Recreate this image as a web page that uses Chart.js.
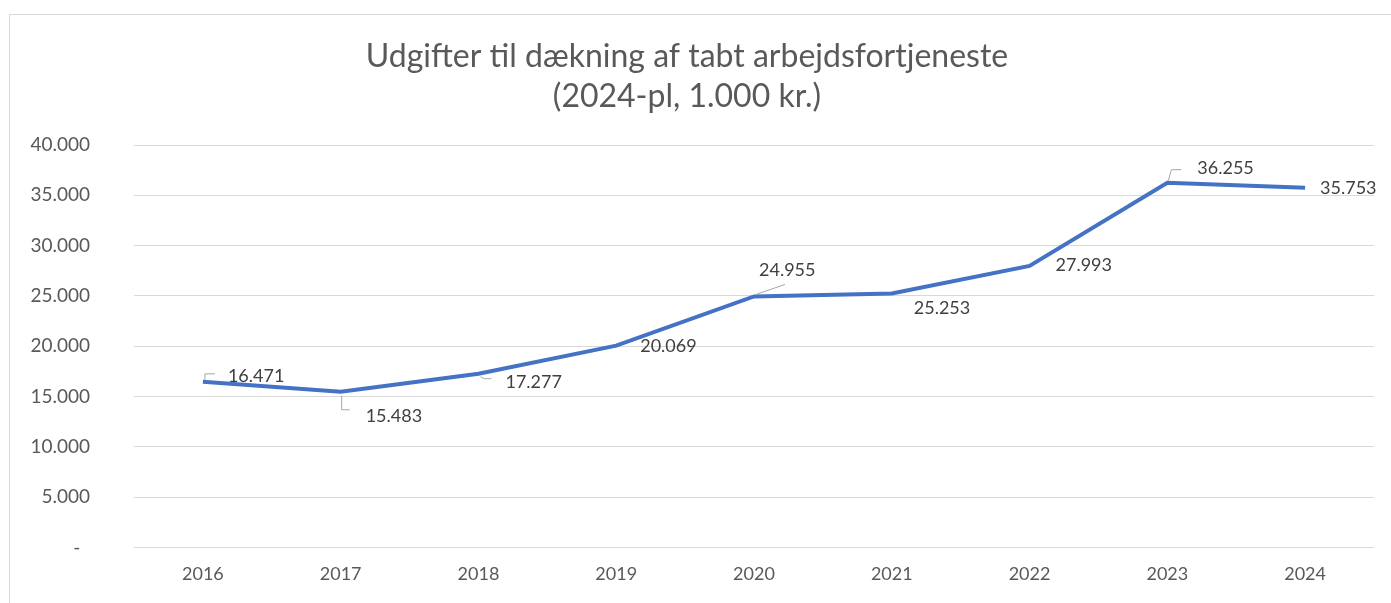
<!DOCTYPE html>
<html lang="da">
  <head>
    <meta charset="UTF-8" />
    <title>Udgifter til dækning af tabt arbejdsfortjeneste</title>
    <script src="https://cdn.jsdelivr.net/npm/chart.js"></script>
    <style>
      html,
      body {
        width: 100%;
        height: 100%;
        margin: 0;
        padding: 0;
        background: #fff;
        overflow: hidden;
      }
      .frame {
        position: absolute;
        left: 9px;
        top: 14px;
        width: 1400px;
        height: 600px;
        border: 1px solid #d9d9d9;
      }
      .wrap {
        position: absolute;
        left: 0;
        top: 0;
        width: 1391px;
        height: 603px;
      }
    </style>
  </head>
  <body>
    <div class="frame"></div>
    <div class="wrap">
      <canvas id="lineChart"></canvas>
    </div>

    <script>
      const years = ["2016", "2017", "2018", "2019", "2020", "2021", "2022", "2023", "2024"];
      const udgifter = [16471, 15483, 17277, 20069, 24955, 25253, 27993, 36255, 35753];
      const titleLines = ["Udgifter til dækning af tabt arbejdsfortjeneste", "(2024-pl, 1.000 kr.)"];

      // where each data label sits relative to its point, plus the leader line (Excel style)
      const labelPlacement = [
        { dx: 25, dy: -6, leader: [[2, -2], [2, -8], [12, -8]] },
        { dx: 25, dy: 24, leader: [[1, 4], [1, 18], [9, 18]] },
        { dx: 27, dy: 8, leader: [[2, 3], [6, 5], [13, 5]] },
        { dx: 24, dy: 1, leader: null },
        { dx: 5, dy: -26, leader: [[2, -2], [31, -12]] },
        { dx: 22, dy: 15, leader: null },
        { dx: 26, dy: -1, leader: null },
        { dx: 30, dy: -15, leader: [[1, -2], [4, -13], [14, -13]] },
        { dx: 15, dy: 0, leader: null },
      ];

      const fmt = (v) => v.toLocaleString("da-DK");
      const FONT = "Lato";

      const dataLabels = {
        id: "dataLabels",
        afterDatasetsDraw(chart) {
          const ctx = chart.ctx;
          const meta = chart.getDatasetMeta(0);
          ctx.save();
          meta.data.forEach((pt, i) => {
            const p = labelPlacement[i];
            if (p.leader) {
              ctx.strokeStyle = "#a6a6a6";
              ctx.lineWidth = 1;
              ctx.beginPath();
              p.leader.forEach(([lx, ly], j) => {
                if (j === 0) ctx.moveTo(pt.x + lx, pt.y + ly);
                else ctx.lineTo(pt.x + lx, pt.y + ly);
              });
              ctx.stroke();
            }
            ctx.fillStyle = "#404040";
            ctx.font = "18px " + FONT;
            ctx.textAlign = "left";
            ctx.textBaseline = "middle";
            ctx.fillText(fmt(udgifter[i]), pt.x + p.dx, pt.y + p.dy);
          });
          ctx.restore();
        },
      };

      const chart = new Chart(document.getElementById("lineChart"), {
        type: "line",
        data: {
          labels: years,
          datasets: [
            {
              data: udgifter,
              borderColor: "#4472C4",
              borderWidth: 4,
              pointRadius: 0,
              tension: 0,
              fill: false,
            },
          ],
        },
        options: {
          responsive: true,
          maintainAspectRatio: false,
          animation: false,
          layout: {
            padding: { left: 0, right: 17, top: 0, bottom: 0 },
          },
          plugins: {
            legend: { display: false },
            tooltip: { enabled: false },
            title: {
              display: true,
              text: titleLines,
              color: "#595959",
              font: { family: FONT, size: 32, weight: "normal", lineHeight: 1.25 },
              padding: { top: 37, bottom: 28 },
            },
          },
          scales: {
            x: {
              offset: true,
              afterFit(scale) {
                scale.height = 51;
              },
              grid: { display: false, drawTicks: false },
              border: { display: false },
              ticks: {
                color: "#595959",
                font: { family: FONT, size: 18 },
                padding: 16,
                maxRotation: 0,
                autoSkip: false,
              },
            },
            y: {
              min: 0,
              max: 40000,
              afterFit(scale) {
                scale.width = 134;
              },
              grid: { color: "#d9d9d9", lineWidth: 1, drawTicks: false },
              border: { display: false },
              ticks: {
                stepSize: 5000,
                color: "#595959",
                font: { family: FONT, size: 19 },
                padding: 44,
                callback: (v) => (v === 0 ? "-  " : fmt(v)),
              },
            },
          },
        },
        plugins: [dataLabels],
      });
    </script>
  </body>
</html>
